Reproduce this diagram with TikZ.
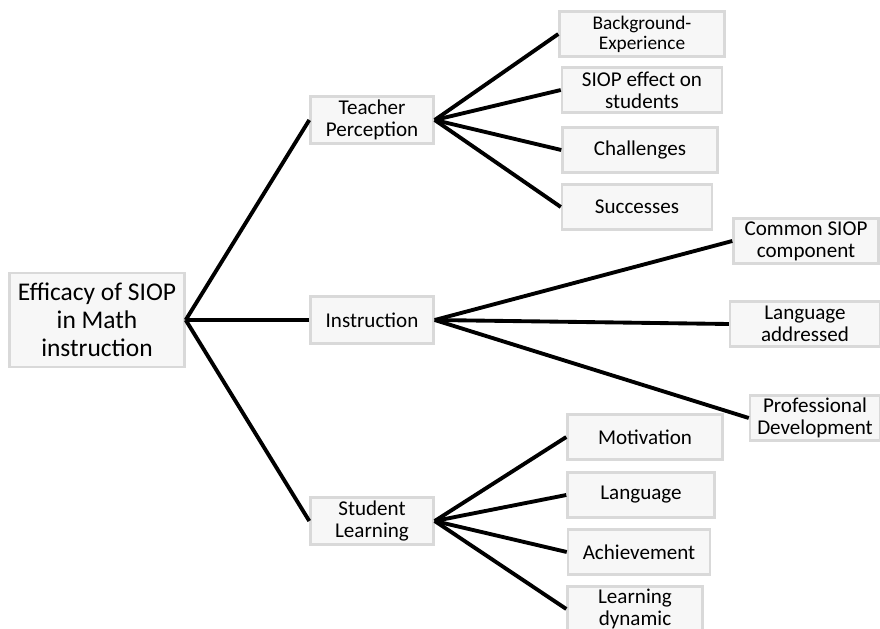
\documentclass[tikz,border=0pt]{standalone}
\usepackage{fontspec}
\setmainfont{Carlito}
\usepackage{tikz}
\usetikzlibrary{positioning}
\tikzset{
    tree/.style={font=\fontsize{12}{12.5}\selectfont},
    tree box/.style={draw=gray!30, line width=1.4pt, fill=gray!6, align=center,
        inner sep=1pt, minimum width=2.46cm, minimum height=0.94cm},
    tree root/.style={tree box, minimum width=3.5cm, minimum height=1.88cm,
        font=\fontsize{14.5}{16}\selectfont},
    tree leaf/.style={tree box, minimum height=0.9cm},
    tree branch/.style={line width=2.2pt},
}

\begin{document}
\begin{tikzpicture}[tree, x=0.02cm, y=-0.02cm]
            \useasboundingbox (0,0) rectangle (880,629);
            % root and main branches
            \node[tree root] (efficacy) at (97,320) {Efficacy of SIOP\\in Math\\instruction};
            \node[tree box] (teacher) at (372,120) {Teacher\\Perception};
            \node[tree box] (instruction) at (372,320) {Instruction};
            \node[tree box] (student) at (372,521) {Student\\Learning};
            % teacher perception
            \node[tree leaf, minimum width=3.3cm, font=\fontsize{11}{11.5}\selectfont]
                (background) at (642,34) {Background-\\Experience};
            \node[tree leaf, minimum width=3.2cm] (effect) at (642,90) {SIOP effect on\\students};
            \node[tree leaf, minimum width=3.1cm] (challenges) at (640,150) {Challenges};
            \node[tree leaf, minimum width=3.0cm] (successes) at (637,207) {Successes};
            % instruction
            \node[tree leaf, minimum width=2.9cm] (common) at (806,241) {Common SIOP\\component};
            \node[tree leaf, minimum width=3.0cm] (addressed) at (805,324) {Language\\addressed};
            \node[tree leaf, minimum width=2.6cm] (development) at (815,418) {Professional\\Development};
            % student learning
            \node[tree leaf, minimum width=3.1cm] (motivation) at (645,437) {Motivation};
            \node[tree leaf, minimum width=2.94cm] (language) at (641,495) {Language};
            \node[tree leaf, minimum width=2.84cm] (achievement) at (639,552) {Achievement};
            \node[tree leaf, minimum width=2.7cm] (dynamic) at (635,609) {Learning\\dynamic};
            \foreach \child in {teacher, instruction, student}
                \draw[tree branch] (efficacy.east) -- (\child.west);
            \foreach \leaf in {background, effect, challenges, successes}
                \draw[tree branch] (teacher.east) -- (\leaf.west);
            \foreach \leaf in {common, addressed, development}
                \draw[tree branch] (instruction.east) -- (\leaf.west);
            \foreach \leaf in {motivation, language, achievement, dynamic}
                \draw[tree branch] (student.east) -- (\leaf.west);
        \end{tikzpicture}
\end{document}
